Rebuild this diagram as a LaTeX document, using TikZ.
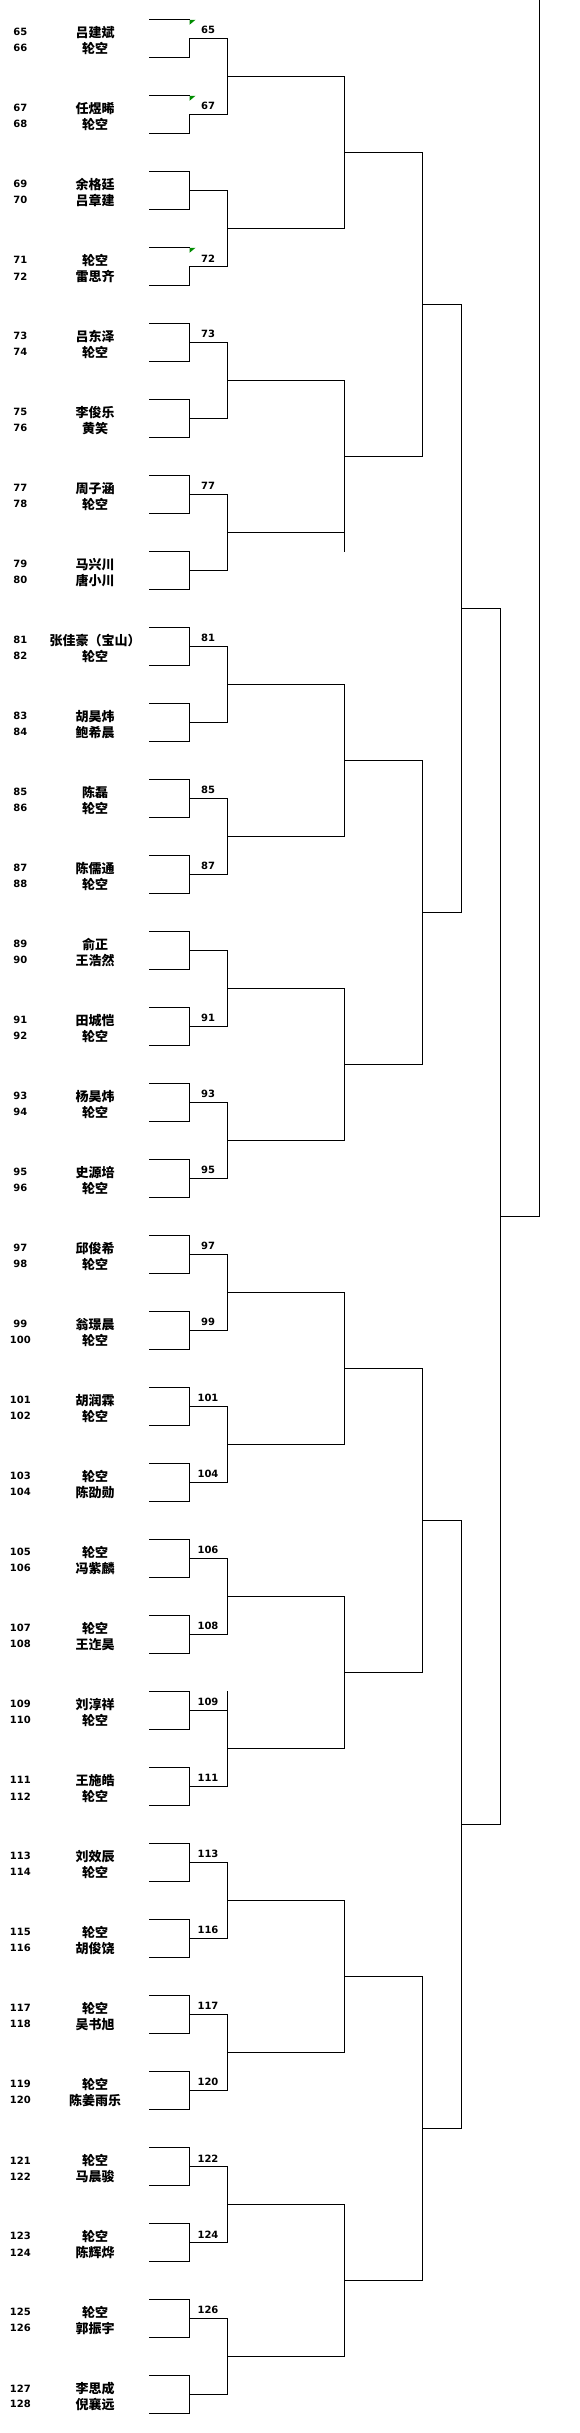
\documentclass[tikz,border=0pt]{standalone}
\usepackage{fontspec}
\newfontfamily\cjk{Noto Sans CJK SC}
\newfontfamily\numf{DejaVu Sans}
\begin{document}
\begin{tikzpicture}[x=1pt,y=-1pt]
\tikzset{
  br/.style={line width=1pt, line cap=rect},
  num/.style={font=\numf\bfseries\fontsize{10}{10}\selectfont, inner sep=0pt, anchor=center},
  nm/.style={font=\cjk\bfseries\fontsize{13}{13}\selectfont, inner sep=0pt, anchor=center},
  flag/.style={fill=green!55!black, draw=none}
}
\useasboundingbox (0,0) rectangle (579,2433);
% ---------- round 1 ----------
\foreach \k in {0,...,31}{
  \pgfmathsetmacro\t{19.3+76*\k}
  \pgfmathsetmacro\b{57.3+76*\k}
  \pgfmathsetmacro\m{38.3+76*\k}
  \coordinate (r1tL\k) at (149.3,\t);
  \coordinate (r1tR\k) at (189,\t);
  \coordinate (r1bL\k) at (149.3,\b);
  \coordinate (r1bR\k) at (189,\b);
  \coordinate (r1m\k) at (189,\m);
  \coordinate (r1o\k) at (227.7,\m);
  \draw[br] (r1m\k) -- (r1o\k);
}
\foreach \k in {2,4,5,6,7,8,9,10,11,12,13,14,15,16,17,18,19,20,21,22,23,24,25,26,27,28,29,30,31}{
  \draw[br] (r1tL\k) -- (r1tR\k) -- (r1bR\k) -- (r1bL\k);
}
\foreach \k in {0,1,3}{
  \draw[br] (r1tL\k) -- (r1tR\k);
  \draw[br] (r1m\k) -- (r1bR\k) -- (r1bL\k);
  \fill[flag] ([xshift=0.5pt,yshift=-0.5pt]r1tR\k) -- ++(6,0) -- ++(-6,5) -- cycle;
}
% ---------- round 2 ----------
\foreach \j in {0,...,15}{
  \pgfmathtruncatemacro\ja{2*\j}
  \pgfmathtruncatemacro\jb{2*\j+1}
  \pgfmathsetmacro\y{76.3+152*\j}
  \coordinate (r2m\j) at (227.7,\y);
  \coordinate (r2o\j) at (344.3,\y);
  \draw[br] (r1o\ja) -- (r1o\jb);
  \draw[br] (r2m\j) -- (r2o\j);
}
\coordinate (stubA) at (227.7,1691);
\draw[br] (stubA) -- (r1o22);
% ---------- round 3 ----------
\foreach \i in {0,...,7}{
  \pgfmathtruncatemacro\ia{2*\i}
  \pgfmathtruncatemacro\ib{2*\i+1}
  \pgfmathsetmacro\y{152.3+304*\i}
  \coordinate (r3m\i) at (344.3,\y);
  \coordinate (r3o\i) at (422.3,\y);
  \draw[br] (r2o\ia) -- (r2o\ib);
  \draw[br] (r3m\i) -- (r3o\i);
}
\coordinate (stubB) at (344.3,551);
\draw[br] (r2o3) -- (stubB);
% ---------- round 4 ----------
\foreach \h in {0,...,3}{
  \pgfmathtruncatemacro\ha{2*\h}
  \pgfmathtruncatemacro\hb{2*\h+1}
  \pgfmathsetmacro\y{304.3+608*\h}
  \coordinate (r4m\h) at (422.3,\y);
  \coordinate (r4o\h) at (461.3,\y);
  \draw[br] (r3o\ha) -- (r3o\hb);
  \draw[br] (r4m\h) -- (r4o\h);
}
% ---------- round 5 ----------
\foreach \g in {0,1}{
  \pgfmathtruncatemacro\ga{2*\g}
  \pgfmathtruncatemacro\gb{2*\g+1}
  \pgfmathsetmacro\y{608.3+1216*\g}
  \coordinate (r5m\g) at (461.3,\y);
  \coordinate (r5o\g) at (500.3,\y);
  \draw[br] (r4o\ga) -- (r4o\gb);
  \draw[br] (r5m\g) -- (r5o\g);
}
% ---------- round 6 and final ----------
\coordinate (r6m) at (500.3,1216.3);
\coordinate (r6o) at (539.3,1216.3);
\coordinate (fin) at (539.3,0);
\draw[br] (r5o0) -- (r5o1);
\draw[br] (r6m) -- (r6o);
\draw[br] (fin) -- (r6o);
% ---------- players ----------
\foreach \k/\na/\nb in {
 0/吕建斌/轮空, 1/任煜晞/轮空, 2/余格廷/吕章建, 3/轮空/雷思齐,
 4/吕东泽/轮空, 5/李俊乐/黄笑, 6/周子涵/轮空, 7/马兴川/唐小川,
 8/张佳豪（宝山）/轮空, 9/胡昊炜/鲍希晨, 10/陈磊/轮空, 11/陈儒通/轮空,
 12/俞正/王浩然, 13/田城恺/轮空, 14/杨昊炜/轮空, 15/史源培/轮空,
 16/邱俊希/轮空, 17/翁璟晨/轮空, 18/胡润霖/轮空, 19/轮空/陈劭勋,
 20/轮空/冯紫麟, 21/轮空/王迮昊, 22/刘淳祥/轮空, 23/王施皓/轮空,
 24/刘效辰/轮空, 25/轮空/胡俊饶, 26/轮空/吴书旭, 27/轮空/陈姜雨乐,
 28/轮空/马晨骏, 29/轮空/陈辉烨, 30/轮空/郭振宇, 31/李思成/倪襄远}{
  \pgfmathtruncatemacro\pa{65+2*\k}
  \pgfmathtruncatemacro\pb{66+2*\k}
  \pgfmathsetmacro\ya{32.3+76*\k}
  \pgfmathsetmacro\yb{48.3+76*\k}
  \node[num] (na\k) at (20.3,\ya) {\pa};
  \node[num] (nb\k) at (20.3,\yb) {\pb};
  \node[nm] (pa\k) at (95,\ya) {\na};
  \node[nm] (pb\k) at (95,\yb) {\nb};
}
% ---------- winners ----------
\foreach \k/\w in {0/65,1/67,3/72,4/73,6/77,8/81,10/85,11/87,13/91,14/93,15/95,
 16/97,17/99,18/101,19/104,20/106,21/108,22/109,23/111,24/113,25/116,26/117,
 27/120,28/122,29/124,30/126}{
  \pgfmathsetmacro\y{30.3+76*\k}
  \node[num] (w\k) at (208,\y) {\w};
}
\end{tikzpicture}
\end{document}
